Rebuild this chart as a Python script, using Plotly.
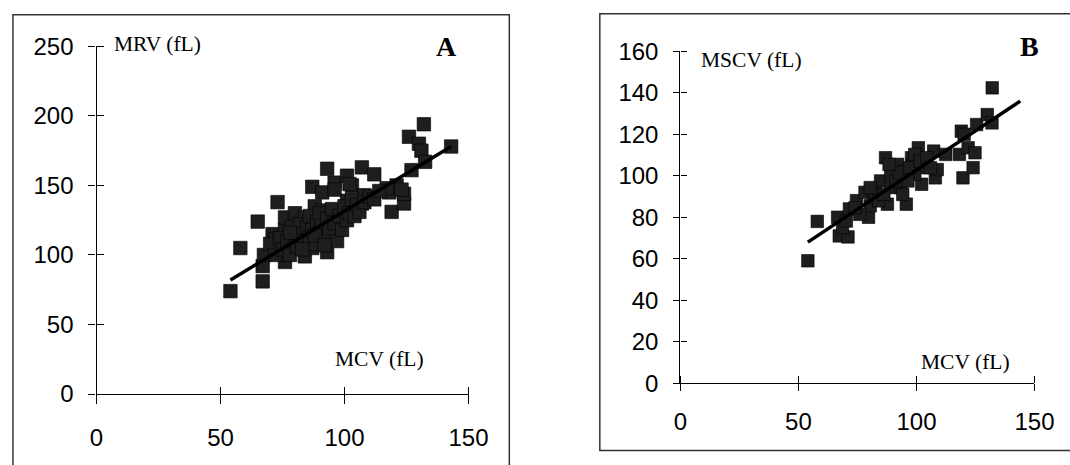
import plotly.graph_objects as go

W, H = 1070, 465

# ---------------- data ----------------
# Panel A: MCV (fL) vs MRV (fL)
a_mcv = [54, 58, 65, 73, 67, 67, 67.5, 71, 76, 76, 80, 76, 72, 84, 87, 93,
         87, 91, 93, 96, 101, 107, 112, 103, 96, 93, 88, 91, 84, 82, 94, 99,
         101, 104, 107, 108, 118, 119, 124, 124, 121, 126, 130, 131, 143, 127, 132.5,
         102, 96, 117, 123, 132,
         70, 72, 74, 75, 77, 78, 79, 80, 81, 82, 83, 84, 85, 86, 86, 87, 88,
         89, 90, 90, 91, 92, 93, 94, 95, 96, 97, 98, 99, 100, 101, 102, 103,
         104, 105, 106, 108, 110, 112, 114, 78, 83, 88, 92]
a_mrv = [74, 105, 124, 138, 81, 92, 100, 115, 118, 127, 130, 95, 111, 99, 105, 102,
         149, 145, 162, 152, 157, 163, 158, 150, 115, 111, 135, 132, 127, 118, 125, 130,
         139, 135, 137, 143, 145, 131, 137, 144, 150, 185, 180, 175, 178, 161, 167,
         151, 147, 148, 147, 194,
         108, 100, 112, 104, 110, 100, 120, 112, 106, 122, 115, 110, 120, 113, 128, 118, 108,
         124, 116, 130, 121, 112, 126, 119, 133, 123, 110, 128, 118, 135, 125, 130, 140,
         128, 136, 131, 138, 142, 140, 146, 116, 104, 114, 107]
a_fit_x = [54, 143]
a_fit_y = [82, 178]

# Panel B: MCV (fL) vs MSCV (fL)
b_mcv = [54, 58, 66.6, 67.3, 71, 68.7, 71.6, 74.6, 78.2, 79.7, 80.4, 76, 81.8, 84.8,
         86.9, 89.1, 87.7, 90.6, 92, 93.5, 95.7, 95, 97.9, 100.8, 102.2, 103.7, 99.3,
         98.6, 107.3, 108, 108.8, 112.4, 118.2, 119, 119.7, 121.9, 124, 124.8, 125.5,
         130, 132, 132.1, 120.2,
         82.6, 84, 86.2, 89.1, 91.3, 92.8, 94.2, 96.4, 97.1, 99.3, 101.5, 104.4, 105.9,
         80.4, 74, 70.3, 88.4]
b_mscv = [59, 78, 80, 71, 70.5, 75, 84, 88, 92, 80, 85.5, 81.4, 89.5, 97.5,
          108.7, 94.3, 86.3, 100.7, 105.5, 94.3, 86.3, 102.3, 108.7, 113.5, 95.9, 103.9, 100.7,
          105.5, 111.9, 99, 103, 110.3, 110.3, 121.5, 99, 113.5, 103.9, 111.1, 124.7,
          129.5, 125.5, 142.4, 120,
          92, 87.9, 91, 100.7, 97.5, 101.5, 91, 97.5, 103.9, 110.3, 107, 108.7, 103.9,
          94.3, 84.6, 78.2, 105.5]
b_fit_x = [54, 144]
b_fit_y = [68, 136]

x_ticks = [0, 50, 100, 150]
a_y_ticks = [0, 50, 100, 150, 200, 250]
b_y_ticks = [0, 20, 40, 60, 80, 100, 120, 140, 160]

# ---------------- layout helpers ----------------
# measured mapping between requested and photographed positions
SX, OX = 0.98, 4.0
SY, OY = 0.951, 11.3


def px(x):
    """target photographed x pixel -> paper fraction"""
    return ((x - OX) / SX) / W


def py(y):
    """target photographed y pixel -> paper fraction (from bottom)"""
    return 1 - ((y - OY) / SY) / H


TICK_FONT = dict(family="Liberation Sans, Arial, sans-serif", size=24, color="black")
SERIF = "Liberation Serif, Times New Roman, serif"
MARK_A = dict(symbol="square", size=13.5, color="#1e1e1e", line=dict(color="#000000", width=0.6))
MARK_B = dict(symbol="square", size=12.5, color="#1e1e1e", line=dict(color="#000000", width=0.6))

fig = go.Figure()

fig.add_trace(go.Scatter(x=a_mcv, y=a_mrv, mode="markers", marker=MARK_A,
                         xaxis="x", yaxis="y", showlegend=False, cliponaxis=False))
fig.add_trace(go.Scatter(x=a_fit_x, y=a_fit_y, mode="lines",
                         line=dict(color="black", width=3.5),
                         xaxis="x", yaxis="y", showlegend=False))
fig.add_trace(go.Scatter(x=b_mcv, y=b_mscv, mode="markers", marker=MARK_B,
                         xaxis="x2", yaxis="y2", showlegend=False, cliponaxis=False))
fig.add_trace(go.Scatter(x=b_fit_x, y=b_fit_y, mode="lines",
                         line=dict(color="black", width=3.5),
                         xaxis="x2", yaxis="y2", showlegend=False))


def axis(domain, rng, ticks, anchor, standoff, out_len, in_len):
    return dict(domain=domain, range=rng, tickvals=ticks, anchor=anchor,
                showgrid=False, zeroline=False, showline=True, linecolor="black",
                linewidth=1.3, ticks="outside", ticklen=out_len, tickwidth=1.3,
                tickcolor="black", tickfont=TICK_FONT, ticklabelstandoff=standoff,
                fixedrange=True,
                minor=dict(tickvals=ticks, ticks="inside", ticklen=in_len,
                           tickwidth=1.3, tickcolor="black", showgrid=False))


fig.update_layout(
    width=W, height=H,
    margin=dict(l=0, r=0, t=0, b=0),
    paper_bgcolor="white", plot_bgcolor="white",
    xaxis=axis([px(94), px(468)], [0, 150], x_ticks, "y", 13, 9, 7),
    yaxis=axis([py(395), py(44)], [0, 250], a_y_ticks, "x", 10, 7, 7),
    xaxis2=axis([px(681), px(1037)], [0, 150], x_ticks, "y2", 10, 7, 7),
    yaxis2=axis([py(384), py(49)], [0, 160], b_y_ticks, "x2", 10, 6, 6),
)

# frames around panels
top_a = 1 - 0.8 / H
top_b = max(py(11), 1 - 0.8 / H)
fig.add_shape(type="path", xref="paper", yref="paper",
              path=f"M {px(10)} -0.05 L {px(10)} {top_a} L {px(509)} {top_a} L {px(509)} -0.05",
              line=dict(color="#333333", width=1.5))
fig.add_shape(type="rect", xref="paper", yref="paper",
              x0=px(600), y0=py(452), x1=1.05, y1=top_b,
              line=dict(color="#333333", width=1.5))

ann = [
    ("MRV (fL)", 155, 42, 21.5, False),
    ("A", 446, 44, 28, True),
    ("MCV (fL)", 378, 360, 21.5, False),
    ("MSCV (fL)", 752, 58, 21.5, False),
    ("B", 1032, 44, 28, True),
    ("MCV (fL)", 968, 363, 21.5, False),
]
for text, x, y, size, bold in ann:
    fig.add_annotation(text=f"<b>{text}</b>" if bold else text, xref="paper", yref="paper",
                       x=px(x), y=py(y), xanchor="center", yanchor="middle",
                       showarrow=False, font=dict(family=SERIF, size=size, color="black"))

fig.write_html("out.html", config={"displayModeBar": False},
               post_script="document.body.style.margin='0';")
